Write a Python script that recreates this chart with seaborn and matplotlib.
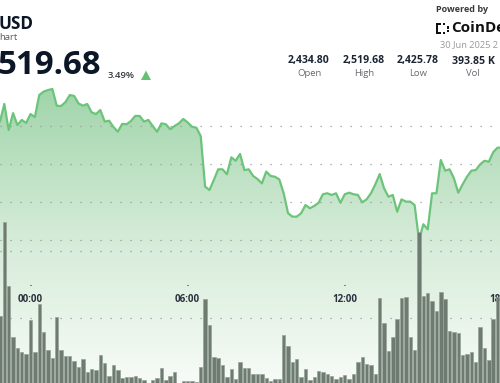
import numpy as np
import pandas as pd
import matplotlib
matplotlib.use("Agg")
import matplotlib.pyplot as plt
import seaborn as sns
from matplotlib.colors import LinearSegmentedColormap
from matplotlib.patches import Polygon, Rectangle
from matplotlib import transforms

# ---------------- data (10-minute steps, index 0 = 00:00) ----------------
steps = list(range(-7, 109))
price = [2502.3, 2511.6, 2497.9, 2506.8, 2500.5, 2503.2, 2501.6,
         2506.3, 2504.7, 2516.3, 2518.1, 2518.9, 2519.5, 2510.7, 2510.5, 2512.6, 2516.3,
         2515.8, 2511.9, 2510.7, 2511.6, 2507.2, 2506.3, 2508.4, 2502.3, 2502.8, 2499.5,
         2497.0, 2501.1, 2500.9, 2502.6, 2505.3, 2505.3, 2502.3, 2503.2, 2500.0, 2497.0,
         2501.4, 2500.9, 2498.3, 2500.0, 2501.4, 2503.7, 2501.9, 2499.6, 2499.1, 2494.7,
         2468.1, 2466.3, 2471.6, 2477.2, 2477.2, 2474.6, 2483.5, 2481.7, 2485.3, 2476.8,
         2477.2, 2473.7, 2472.1, 2469.8, 2476.0, 2473.7, 2473.3, 2471.9, 2464.6, 2454.1,
         2452.3, 2452.3, 2454.1, 2458.4, 2456.7, 2457.9, 2459.6, 2464.1, 2464.6, 2463.7,
         2464.6, 2459.6, 2464.1, 2464.9, 2464.1, 2463.7, 2459.8, 2461.4, 2464.6, 2469.3,
         2474.7, 2467.2, 2462.8, 2463.7, 2454.9, 2461.4, 2460.2, 2460.2, 2458.4, 2440.0,
         2448.3, 2445.6, 2464.6, 2464.6, 2482.1, 2476.5, 2477.2, 2472.5, 2464.9, 2469.3,
         2473.3, 2476.5, 2476.8, 2479.8, 2481.7, 2481.2, 2486.2, 2488.6, 2488.6]
volume = [5171, 12131, 7399, 3588, 2816, 2518, 2370,
          4873, 2474, 6040, 4004, 2622, 2028, 5096, 2622, 2199, 2221,
          1828, 1404, 1954, 988, 1233, 1137, 2273, 1657, 735, 1530,
          1137, 542, 617, 639, 735, 542, 438, 230, 438, 542,
          1285, 416, 713, 1010, 215, 364, 319, 319, 290, 1382,
          6434, 4524, 2125, 2028, 1530, 639, 1233, 468, 1776, 1308,
          1308, 862, 862, 839, 587, 342, 490, 513, 3759, 2905,
          1716, 1998, 602, 1233, 416, 661, 1062, 1010, 839, 750,
          527, 661, 765, 475, 847, 1768, 2102, 1620, 1545, 847,
          6486, 4651, 2548, 3625, 4925, 6471, 6619, 3588, 2645, 11374,
          6671, 6857, 6285, 5579, 6976, 6434, 4041, 3997, 3885, 2273,
          2370, 2496, 1716, 4376, 2771, 1902, 4948, 6619, 2800]
time_ticks = [0, 36, 72, 108]
time_labels = ["00:00", "06:00", "12:00", "18:00"]
price_grid = [2500, 2480, 2460, 2440]
volume_grid = [5000, 10000]
stat_values = ["2,434.80", "2,519.68", "2,425.78", "393.85 K"]
stat_names = ["Open", "High", "Low", "Vol"]

df = pd.DataFrame({"step": steps, "price": price, "volume": volume})

# ---------------- figure ----------------
W, H = 500, 383
sns.set_theme(style="white")
plt.rcParams["font.family"] = ["Open Sans", "DejaVu Sans"]
plt.rcParams["lines.scale_dashes"] = False

fig = plt.figure(figsize=(W / 100, H / 100), dpi=100)
fig.patch.set_facecolor("white")
ax = fig.add_axes([0, 0, 1, 1])
XMIN, XMAX = -6.99, 107.56
PLO, PHI = 2364.74, 2566.32
ax.set_xlim(XMIN, XMAX)
ax.set_ylim(PLO, PHI)
ax.axis("off")

# gradient area under the price line
cmap = LinearSegmentedColormap.from_list(
    "g", [(0.0, "#f7fbf7"), (0.5, "#d4ebd7"), (1.0, "#9fd4a9")])
grad = np.linspace(0, 1, 256).reshape(-1, 1)
top_p = 2521.6
im = ax.imshow(grad, extent=[XMIN, XMAX, PLO, top_p], origin="lower",
               aspect="auto", cmap=cmap, zorder=1, interpolation="bilinear")
xs = np.array(steps, dtype=float)
ps = np.array(price)
verts = [(xs[0], PLO)] + list(zip(xs, ps)) + [(xs[-1], PLO)]
clip = Polygon(verts, closed=True, transform=ax.transData, facecolor="none",
               edgecolor="none")
ax.add_patch(clip)
im.set_clip_path(clip)
ax.set_xlim(XMIN, XMAX)
ax.set_ylim(PLO, PHI)

for g in price_grid:
    ax.axhline(g, color="#9a9a9a", lw=0.9, dashes=(0.9, 6.3), zorder=2)

sns.lineplot(data=df, x="step", y="price", ax=ax, color="#6cc47b",
             linewidth=1.6, zorder=3, legend=False)
ax.set_xlim(XMIN, XMAX)
ax.set_ylim(PLO, PHI)
ax.axis("off")

# volume bars
ax2 = ax.twinx()
ax2.set_position([0, 0, 1, 1])
for g in volume_grid:
    ax2.axhline(g, color="#9a9a9a", lw=0.9, dashes=(0.9, 6.3), zorder=1)
sns.barplot(data=df, x="step", y="volume", ax=ax2, native_scale=True,
            width=0.78, color="#6e7b70", saturation=1, edgecolor="#97a398",
            linewidth=0.5, zorder=4)
ax2.set_xlim(XMIN, XMAX)
ax2.set_ylim(193, 28646)
ax2.axis("off")

# time labels
tr = transforms.blended_transform_factory(ax.transData, fig.transFigure)
for t, lab in zip(time_ticks, time_labels):
    ax.text(t, 1 - 300 / H, lab, transform=tr, ha="center", va="center",
            fontsize=7, fontweight="bold", color="#2a323d", zorder=6, clip_on=False)
    ax.plot([t - 0.12, t + 0.12], [1 - 285 / H] * 2, transform=tr,
            color="#666666", lw=0.7, zorder=6)


def ft(x, y, s, **kw):
    fig.text(x / W, 1 - y / H, s, **kw)


# header
ft(-1, 24, "USD", fontsize=12.3, fontweight="bold", color="#0b1626",
   va="center", ha="left")
ft(-1, 38, "hart", fontsize=6.8, color="#555b63", va="center", ha="left")
ft(-3, 65, "519.68", fontsize=23.8, fontweight="bold", color="#0b1626",
   va="center", ha="left")
ft(108, 75, "3.49%", fontsize=6.8, fontweight="semibold", color="#33383f",
   va="center", ha="left")
tri = Polygon([(141 / W, 1 - 80 / H), (151 / W, 1 - 80 / H), (146 / W, 1 - 70.5 / H)],
              closed=True, transform=fig.transFigure, facecolor="#66c074",
              edgecolor="none")
fig.patches.append(tri)

ft(436, 10, "Powered by", fontsize=6.5, fontweight="bold", color="#3a3a3a",
   va="center", ha="left")
# logo icon
for (rx, ry, rw, rh) in [(436, 23, 2.2, 11), (436, 23, 5, 2.2), (436, 31.8, 5, 2.2),
                         (443, 23, 2.2, 2.2), (443, 31.8, 2.2, 2.2),
                         (446.5, 26.5, 2.2, 2.2), (446.5, 30, 2.2, 2.2)]:
    fig.patches.append(Rectangle((rx / W, 1 - (ry + rh) / H), rw / W, rh / H,
                                 transform=fig.transFigure, facecolor="#111111",
                                 edgecolor="none"))
ft(451, 28.5, "CoinDesk", fontsize=11, fontweight="bold", color="#111111",
   va="center", ha="left")
ft(440, 45, "30 Jun 2025 2", fontsize=6.7, color="#9a9a9a", va="center", ha="left")

stat_x = [309, 363.7, 417.8, 473]
for sx, v, n in zip(stat_x, stat_values, stat_names):
    ft(sx, 61, v, fontsize=7.6, fontweight="bold", color="#1c2433",
       va="center", ha="center")
    ft(sx, 74, n, fontsize=6.8, color="#666a70", va="center", ha="center")

fig.savefig("out.png", dpi=100, facecolor="white")
